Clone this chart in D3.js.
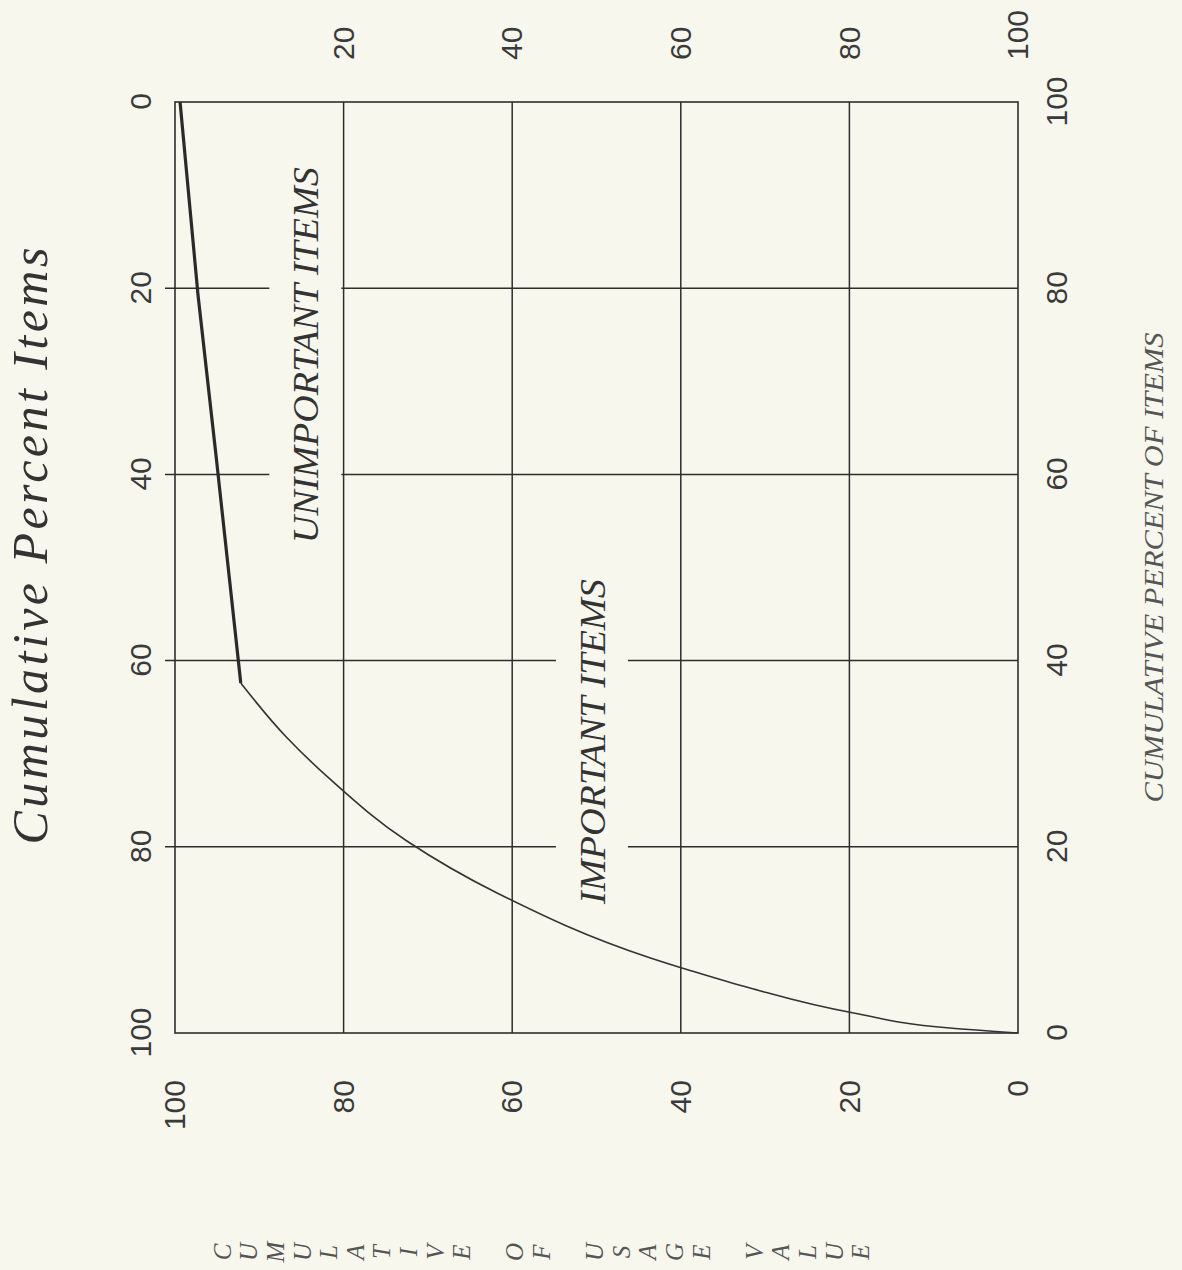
<!DOCTYPE html>
<html>
<head>
<meta charset="utf-8">
<script src="https://cdn.jsdelivr.net/npm/d3@7"></script>
<style>
  body { margin: 0; background: #f7f7ee; }
  svg { display: block; }
</style>
</head>
<body>
<svg id="chart"></svg>
<script>
// ABC curve: cumulative percent of items vs cumulative percent of usage value
const itemsPct = [0, 0.54, 2.15, 4.83, 6.66, 8.06, 15.04, 20.62, 27.18, 31.79, 37.59];
const usagePct = [0, 8.1, 19.5, 31.8, 38.7, 43.6, 61.8, 72.5, 81.5, 86.8, 92.2];
// flat tail (unimportant items)
const tailItems = [37.59, 41.35, 62.08, 79.27, 100];
const tailUsage = [92.2, 92.65, 95.14, 97.27, 99.4];

const gridTicks = [20, 40, 60, 80];
const tickLabels = [0, 20, 40, 60, 80, 100];
const rightLabels = [20, 40, 60, 80, 100];

const title = 'Cumulative Percent Items';
const xTitle = 'CUMULATIVE PERCENT OF ITEMS';
const yTitle = 'CUMULATIVE OF USAGE VALUE';
const zoneNames = ['IMPORTANT ITEMS', 'UNIMPORTANT ITEMS'];

// the chart is drawn upright and then turned a quarter turn, like the scan
const W = 1270, H = 1182;
const margin = {top: 175, right: 102, bottom: 164, left: 237};
const ink = '#2d2d2d';
const paper = '#f7f7ee';

const svg = d3.select('#chart').attr('width', H).attr('height', W);
svg.append('rect').attr('width', H).attr('height', W).attr('fill', paper);

const g = svg.append('g').attr('transform', `translate(0,${W}) rotate(-90)`);

const x = d3.scaleLinear().domain([0, 100]).range([margin.left, W - margin.right]);
const y = d3.scaleLinear().domain([0, 100]).range([H - margin.bottom, margin.top]);
const xRev = x.copy().domain([100, 0]);
const yRev = y.copy().domain([100, 0]);

// grid
g.append('g').selectAll('line').data(gridTicks).join('line')
  .attr('x1', d => x(d)).attr('x2', d => x(d))
  .attr('y1', margin.top - 10).attr('y2', y(0))
  .attr('stroke', ink).attr('stroke-width', 1.5);
g.append('g').selectAll('line').data(gridTicks).join('line')
  .attr('x1', x(0)).attr('x2', x(100))
  .attr('y1', d => y(d)).attr('y2', d => y(d))
  .attr('stroke', ink).attr('stroke-width', 1.5);

// frame
g.append('rect')
  .attr('x', x(0)).attr('y', y(100))
  .attr('width', x(100) - x(0)).attr('height', y(0) - y(100))
  .attr('fill', 'none').attr('stroke', ink).attr('stroke-width', 1.6);

// zone labels, with a paper-coloured band that breaks the grid lines
const zones = [
  {name: zoneNames[0], at: 31.3, level: 49, len: 325},
  {name: zoneNames[1], at: 72.8, level: 83, len: 376}
];
zones.forEach(z => {
  g.append('rect')
    .attr('x', x(z.at) - z.len / 2 - 4).attr('width', z.len + 8)
    .attr('y', y(z.level) - 49).attr('height', 72)
    .attr('fill', paper);
  g.append('text')
    .attr('x', x(z.at)).attr('y', y(z.level))
    .attr('text-anchor', 'middle')
    .attr('textLength', z.len).attr('lengthAdjust', 'spacingAndGlyphs')
    .attr('font-family', 'Liberation Serif, Times New Roman, serif')
    .attr('font-style', 'italic').attr('font-size', 36)
    .attr('fill', '#333')
    .text(z.name);
});

// curve
const line = d3.line().x(d => x(d[0])).y(d => y(d[1])).curve(d3.curveMonotoneX);
g.append('path').datum(d3.zip(itemsPct, usagePct))
  .attr('d', line).attr('fill', 'none')
  .attr('stroke', '#333').attr('stroke-width', 1.6);
g.append('path').datum(d3.zip(tailItems, tailUsage))
  .attr('d', d3.line().x(d => x(d[0])).y(d => y(d[1])))
  .attr('fill', 'none').attr('stroke', '#2a2a2a').attr('stroke-width', 3.2);

// axes
const tickFont = 'Liberation Sans Narrow, Arial Narrow, Liberation Sans, Arial, sans-serif';
function styleAxis(sel) {
  sel.select('.domain').remove();
  sel.selectAll('text')
    .attr('font-family', tickFont).attr('font-size', 30).attr('fill', '#3a3a3a');
}
g.append('g').attr('transform', `translate(0,${margin.top})`)
  .call(d3.axisTop(xRev).tickValues(tickLabels).tickSize(0).tickPadding(24))
  .call(styleAxis);
g.append('g').attr('transform', `translate(0,${H - margin.bottom})`)
  .call(d3.axisBottom(x).tickValues(tickLabels).tickSize(0).tickPadding(28))
  .call(styleAxis);
g.append('g').attr('transform', `translate(${margin.left},0)`)
  .call(d3.axisLeft(y).tickValues(tickLabels).tickSize(0).tickPadding(47))
  .call(styleAxis);
g.append('g').attr('transform', `translate(${W - margin.right},0)`)
  .call(d3.axisRight(yRev).tickValues(rightLabels).tickSize(0).tickPadding(42))
  .call(styleAxis);

// titles
g.append('text')
  .attr('x', x(52.3)).attr('y', 47)
  .attr('text-anchor', 'middle')
  .attr('textLength', 597).attr('lengthAdjust', 'spacing')
  .attr('font-family', 'Liberation Serif, Times New Roman, serif')
  .attr('font-style', 'italic').attr('font-size', 50).attr('fill', '#333')
  .text(title);

g.append('text')
  .attr('x', x(50)).attr('y', H - 19)
  .attr('text-anchor', 'middle')
  .attr('textLength', 470).attr('lengthAdjust', 'spacingAndGlyphs')
  .attr('font-family', 'Liberation Serif, Times New Roman, serif')
  .attr('font-style', 'italic').attr('font-size', 27).attr('fill', '#555')
  .text(xTitle);

// stacked letters of the value-axis title
g.append('g').selectAll('text').data(yTitle.split('')).join('text')
  .attr('x', 18).attr('y', (d, i) => 222 + i * 26.6)
  .attr('dy', '0.35em')
  .attr('text-anchor', 'middle')
  .attr('font-family', 'Liberation Serif, Times New Roman, serif')
  .attr('font-style', 'italic').attr('font-size', 25).attr('fill', '#555')
  .text(d => d);
</script>
</body>
</html>
